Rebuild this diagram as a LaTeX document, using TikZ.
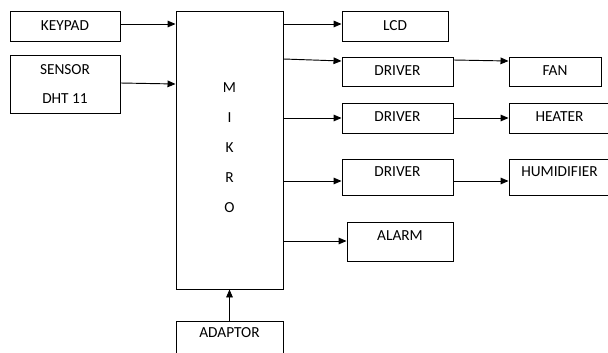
\documentclass[tikz,border=0pt]{standalone}
\usepackage{fontspec}
\setmainfont{Carlito}
\usepackage{tikz}
\usetikzlibrary{positioning, arrows.meta}

\begin{document}
\begin{tikzpicture}[x=0.75pt, y=-0.75pt,
    blk/.style={rectangle, draw, line width=0.7pt, inner sep=0pt, align=center,
                font=\fontsize{11.5}{13}\selectfont},
    raise/.style={text height=7pt, text depth=#1},
    arr/.style={-{Triangle[length=6pt, width=5pt]}, line width=0.7pt}
  ]
  \useasboundingbox (0,0) rectangle (608,353);

  % inputs (left)
  \node[blk, minimum width=82.5pt, minimum height=22.5pt] (keypad) at (65, 26) {KEYPAD};
  \node[blk, minimum width=82.5pt, minimum height=43.5pt] (sensor) at (65, 84)
        {SENSOR\\[9pt]DHT 11};

  % controller
  \node[blk, minimum width=80.25pt, minimum height=208.5pt] (mikro) at (229.5, 150)
        {M\\[9.5pt]I\\[9.5pt]K\\[9.5pt]R\\[9.5pt]O\\[-9pt]\mbox{}};
  \node[blk, raise=9pt, minimum width=80.25pt, minimum height=27pt] (adaptor) at (229.5, 339)
        {ADAPTOR};

  % outputs (right)
  \node[blk, minimum width=79.5pt, minimum height=22.5pt] (lcd) at (395, 26) {LCD};
  \node[blk, raise=1.5pt, minimum width=83.25pt, minimum height=21.75pt] (drv1) at (397.5, 71.5) {DRIVER};
  \node[blk, raise=1.5pt, minimum width=69pt, minimum height=21.75pt] (fan) at (555, 71.5) {FAN};
  \node[blk, raise=2pt, minimum width=83.25pt, minimum height=22.5pt] (drv2) at (397.5, 118) {DRIVER};
  \node[blk, raise=2pt, minimum width=75.75pt, minimum height=22.5pt] (heater) at (559.5, 118) {HEATER};
  \node[blk, raise=7.5pt, minimum width=83.25pt, minimum height=27pt] (drv3) at (397.5, 177) {DRIVER};
  \node[blk, raise=7.5pt, minimum width=75.75pt, minimum height=27pt] (humid) at (559.5, 177) {HUMIDIFIER};
  \node[blk, raise=8.25pt, minimum width=79.5pt, minimum height=29.25pt] (alarm) at (400, 241.5) {ALARM};

  % connections
  \draw[arr] (keypad.east |- 0,24) -- (mikro.west |- 0,24);
  \draw[arr] (sensor.east |- 0,83) -- (mikro.west |- 0,84);
  \draw[arr] (mikro.east |- 0,24) -- (lcd.west |- 0,24);
  \draw[arr] (mikro.east |- 0,59) -- (drv1.west |- 0,61);
  \draw[arr] (drv1.east |- 0,60) -- (fan.west |- 0,61);
  \draw[arr] (mikro.east |- 0,118) -- (drv2.west |- 0,118);
  \draw[arr] (drv2.east |- 0,118) -- (heater.west |- 0,118);
  \draw[arr] (mikro.east |- 0,181) -- (drv3.west |- 0,181);
  \draw[arr] (drv3.east |- 0,181) -- (humid.west |- 0,181);
  \draw[arr] (mikro.east |- 0,241) -- (alarm.west |- 0,241);
  \draw[arr] (adaptor.north) -- (mikro.south);
\end{tikzpicture}
\end{document}
